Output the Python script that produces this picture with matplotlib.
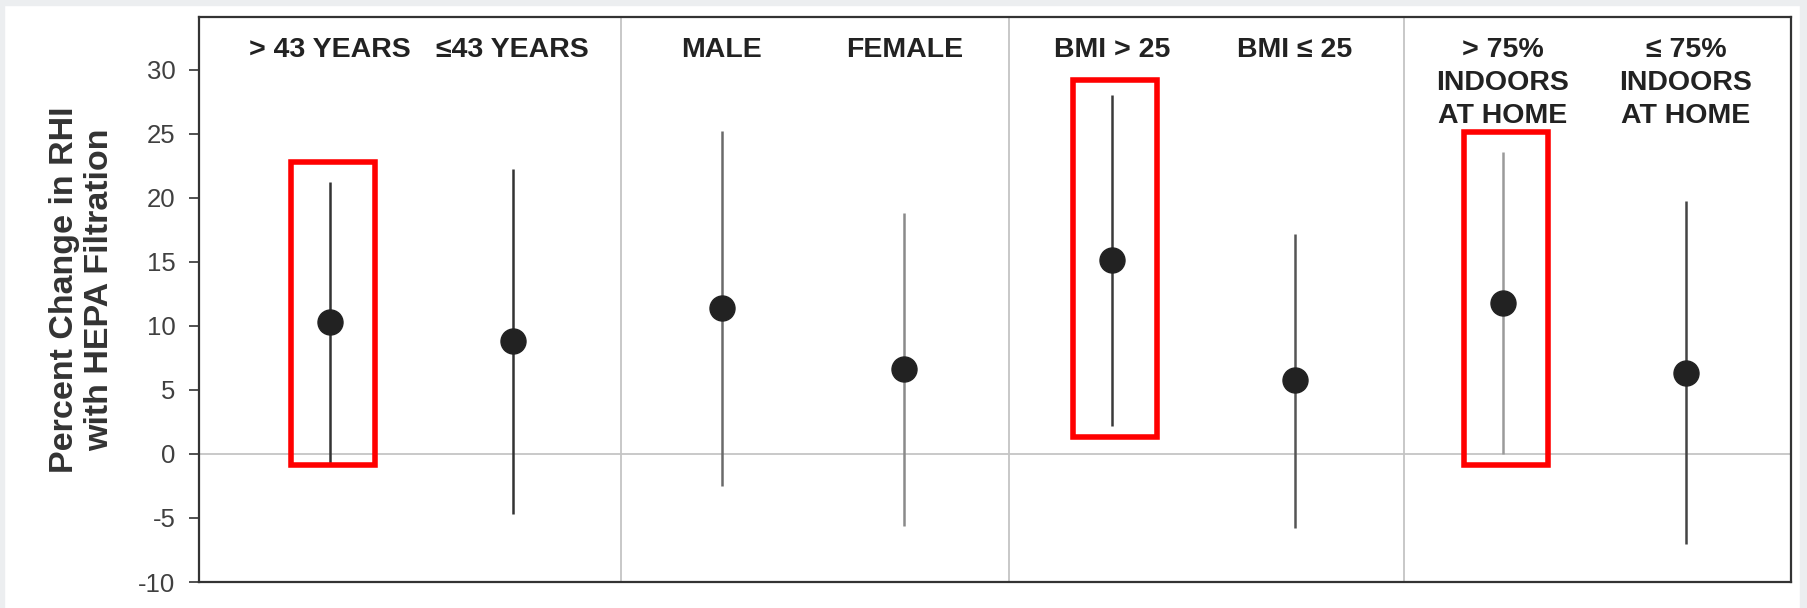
import matplotlib
matplotlib.use("Agg")
import matplotlib.pyplot as plt
from matplotlib.patches import Rectangle

plt.rcParams['font.family'] = ['Liberation Sans', 'DejaVu Sans']
plt.rcParams['axes.unicode_minus'] = False

# subgroups, point estimates and confidence limits (% change in RHI)
labels = ['> 43 YEARS', '\u226443 YEARS', 'MALE', 'FEMALE',
          'BMI > 25', 'BMI \u2264 25',
          '> 75%\nINDOORS\nAT HOME', '\u2264 75%\nINDOORS\nAT HOME']
est = [10.3, 8.8, 11.4, 6.6, 15.1, 5.8, 11.8, 6.3]
lo = [-0.7, -4.7, -2.5, -5.6, 2.2, -5.8, 0.0, -7.0]
hi = [21.2, 22.2, 25.2, 18.8, 28.0, 17.2, 23.6, 19.7]
xpos = [8.2, 19.7, 32.85, 44.3, 57.35, 68.85, 81.9, 93.4]
group_breaks = [26.5, 50.85, 75.7]
whisker_col = ['#333333', '#333333', '#6a6a6a', '#8a8a8a',
               '#3a3a3a', '#555555', '#9a9a9a', '#444444']

# highlighted subgroups (index, low, high)
boxes = [(0, -0.9, 22.8), (4, 1.3, 29.2), (6, -0.9, 25.1)]

fig = plt.figure(figsize=(18.08, 6.08), dpi=100)
fig.set_facecolor('w')
ax = fig.add_axes([199/1808, 1 - 582/608, 1592/1808, 565/608])

# gray frame round the picture
for r in [(0, 0, 4/1808, 1), (1800/1808, 0, 8/1808, 1), (0, 1 - 5/608, 1, 5/608)]:
    fig.patches.append(Rectangle(r[:2], r[2], r[3], transform=fig.transFigure,
                                 color='#eceef0', zorder=0))

ax.set_xlim(0, 100)
ax.set_ylim(-10, 34.1)

ax.axhline(0, color='#bbbbbb', lw=1.1, zorder=1)
for b in group_breaks:
    ax.axvline(b, color='#c4c4c4', lw=1.3, zorder=1)

for i in range(len(est)):
    ax.plot([xpos[i], xpos[i]], [lo[i], hi[i]], color=whisker_col[i], lw=1.8,
            solid_capstyle='butt', zorder=2)
    ax.plot(xpos[i], est[i], 'o', color='#222222', markersize=18, zorder=3)
    ax.text(xpos[i], 32.5, labels[i], ha='center', va='top', fontsize=20.5,
            fontweight='bold', color='#222222', linespacing=1.35)

for i, y0, y1 in boxes:
    ax.add_patch(Rectangle((xpos[i] + 0.2 - 2.65, y0), 5.3, y1 - y0, fill=False,
                           edgecolor='#ff0000', lw=4, zorder=4))

ax.set_xticks([])
ax.set_yticks(range(-10, 31, 5))
ax.tick_params(axis='y', length=7, width=1.2, pad=10, labelsize=18.5,
               labelcolor='#404040', color='#333333')
for s in ax.spines.values():
    s.set_color('#333333')
    s.set_linewidth(1.6)

fig.text(82/1808, 1 - 290/608, 'Percent Change in RHI\nwith HEPA Filtration',
         rotation=90, ha='center', va='center', fontsize=24.5, fontweight='bold',
         color='#333333', linespacing=1.15)

fig.savefig('out.png', dpi=100)
